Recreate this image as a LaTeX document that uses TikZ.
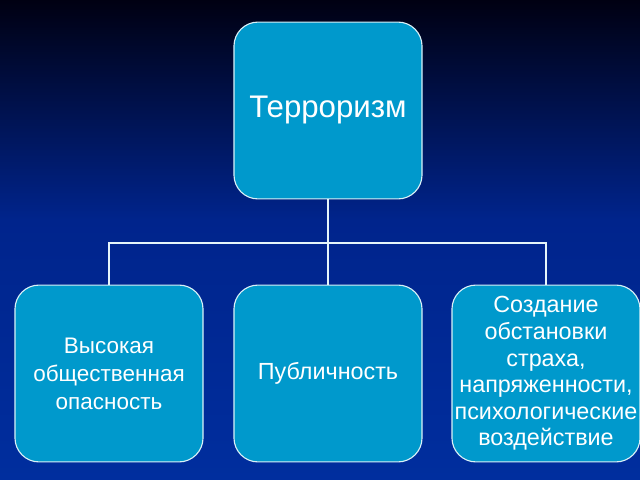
\documentclass[tikz,border=0pt]{standalone}
\usepackage{fontspec}
\setmainfont{Liberation Sans}
\usepackage{tikz}

\definecolor{boxfill}{RGB}{0,153,204}
\definecolor{bgtop}{RGB}{0,0,18}
\definecolor{bgmid}{RGB}{0,36,140}
\definecolor{bgbot}{RGB}{0,46,158}

\tikzset{
  box/.style={draw=white!85!boxfill, line width=0.8pt, fill=boxfill,
    rounded corners=0.6cm, minimum width=4.7cm, minimum height=4.42cm,
    text=white, align=center, inner sep=0pt},
  conn/.style={draw=white!90!boxfill, line width=1.2pt}
}

\begin{document}
\begin{tikzpicture}[x=0.025cm, y=-0.025cm]
% background
\useasboundingbox (0,0) rectangle (640,480);
\shade[top color=bgtop, bottom color=bgmid] (0,0) rectangle (640,220);
\shade[top color=bgmid, bottom color=bgbot] (0,219.5) rectangle (640,480);
% top box
\node[box, font=\fontsize{22.2}{26}\selectfont] (terror) at (328,110.5) {Терроризм};
% three boxes below
\node[box, font=\fontsize{16}{19.9}\selectfont] (danger) at (109,373.5)
  {Высокая\\ общественная\\ опасность};
\node[box, font=\fontsize{16.6}{19.9}\selectfont] (public) at (328,373.5) {Публичность};
\node[box, font=\fontsize{16.6}{18.9}\selectfont] (fear) at (546,373.5)
  {Создание\\ обстановки\\ страха,\\ напряженности,\\ психологические\\ воздействие};
% connectors
\coordinate (bar) at (328,243);
\draw[conn] (terror.south) -- (public.north);
\draw[conn] (danger.north) |- (bar) -| (fear.north);
\end{tikzpicture}
\end{document}
